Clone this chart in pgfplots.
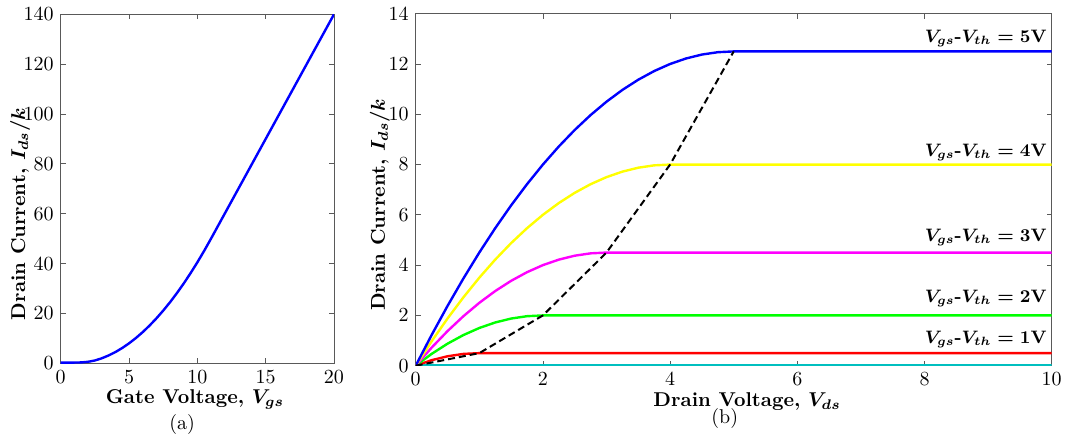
\documentclass[border=0pt]{standalone}
\usepackage{pgfplots}
\pgfplotsset{compat=1.18}
\usepackage{bm}
\definecolor{framegray}{gray}{0.35}
\definecolor{mycyan}{rgb}{0,0.75,0.75}
\definecolor{myblue}{rgb}{0,0,1}
\definecolor{myred}{rgb}{1,0,0}
\definecolor{mygreen}{rgb}{0,1,0}
\definecolor{mymagenta}{rgb}{1,0,1}
\definecolor{myyellow}{rgb}{1,1,0}
\pgfplotsset{
  myaxis/.style={
    scale only axis,
    anchor=south west,
    axis line style={framegray},
    every tick/.style={framegray},
    major tick length=2.5pt,
    tick align=inside,
    tick pos=both,
    clip mode=individual,
    ticklabel style={font=\normalsize},
    label style={font=\bfseries},
  }
}
\begin{document}
\begin{tikzpicture}
\useasboundingbox (0,0) rectangle (533.5pt,222.5pt);
% ---------- (a) ----------
\begin{axis}[myaxis,
  at={(30.35pt,40.85pt)}, width=136.65pt, height=174.5pt,
  xmin=0, xmax=20, ymin=0, ymax=140,
  xtick={0,5,10,15,20}, ytick={0,20,...,140},
  xlabel={Gate Voltage, $\bm{V_{gs}}$},
  ylabel={Drain Current, $\bm{I_{ds}/k}$},
  xlabel style={at={(axis description cs:0.491,-0.1166)}, anchor=base},
  ylabel style={at={(axis description cs:-0.1306,0.428)}, anchor=base},
]
\addplot[myblue, line width=1.2pt] coordinates {
(0,0.3) (0.5,0.3) (1,0.3) (1.5,0.35) (2,0.6) (2.5,1.125) (3,2) (3.5,3.125)
(4,4.5) (4.5,6.125) (5,8) (5.5,10.125) (6,12.5) (6.5,15.125) (7,18)
(7.5,21.125) (8,24.5) (8.5,28.125) (9,32) (9.5,36.125) (10,40.5)
(10.5,45.125) (11,50) (12,60) (13,70) (14,80) (15,90) (16,100)
(17,110) (18,120) (19,130) (20,140)};
\node[font=\normalsize] at (axis description cs:0.444,-0.174) {(a)};
\end{axis}
% ---------- (b) ----------
\begin{axis}[myaxis,
  at={(207.85pt,39.65pt)}, width=318pt, height=176pt,
  xmin=0, xmax=10, ymin=0, ymax=14,
  xtick={0,2,...,10}, ytick={0,2,...,14},
  xlabel={Drain Voltage, $\bm{V_{ds}}$},
  ylabel={Drain Current, $\bm{I_{ds}/k}$},
  xlabel style={at={(axis description cs:0.521,-0.117)}, anchor=base},
  ylabel style={at={(axis description cs:-0.0483,0.457)}, anchor=base},
]
\addplot[mycyan, line width=0.9pt] coordinates {(0,0.04) (10,0.04)};
\addplot[myred, line width=1.2pt] coordinates {
(0,0) (0.25,0.21875) (0.5,0.375) (0.75,0.46875) (1,0.5) (10,0.5)};
\addplot[mygreen, line width=1.2pt] coordinates {
(0,0) (0.25,0.46875) (0.5,0.875) (0.75,1.21875) (1,1.5) (1.25,1.71875)
(1.5,1.875) (1.75,1.96875) (2,2) (10,2)};
\addplot[mymagenta, line width=1.2pt] coordinates {
(0,0) (0.25,0.71875) (0.5,1.375) (0.75,1.96875) (1,2.5) (1.25,2.96875)
(1.5,3.375) (1.75,3.71875) (2,4) (2.25,4.21875) (2.5,4.375) (2.75,4.46875)
(3,4.5) (10,4.5)};
\addplot[myyellow, line width=1.2pt] coordinates {
(0,0) (0.25,0.96875) (0.5,1.875) (0.75,2.71875) (1,3.5) (1.25,4.21875)
(1.5,4.875) (1.75,5.46875) (2,6) (2.25,6.46875) (2.5,6.875) (2.75,7.21875)
(3,7.5) (3.25,7.71875) (3.5,7.875) (3.75,7.96875) (4,8) (10,8)};
\addplot[myblue, line width=1.2pt] coordinates {
(0,0) (0.25,1.21875) (0.5,2.375) (0.75,3.46875) (1,4.5) (1.25,5.46875)
(1.5,6.375) (1.75,7.21875) (2,8) (2.25,8.71875) (2.5,9.375) (2.75,9.96875)
(3,10.5) (3.25,10.96875) (3.5,11.375) (3.75,11.71875) (4,12) (4.25,12.21875)
(4.5,12.375) (4.75,12.46875) (5,12.5) (10,12.5)};
\addplot[black, line width=1pt, dash pattern=on 3.5pt off 2pt] coordinates {
(0,0) (1,0.5) (2,2) (3,4.5) (4,8) (5,12.5)};
\begin{scope}[every node/.style={anchor=base east, inner sep=0pt, xshift=-2.3pt, font=\small\bfseries\boldmath}]
\node[yshift=4.65pt] at (axis cs:10,12.5) {$V_{gs}$-$V_{th} = 5$V};
\node[yshift=4.2pt] at (axis cs:10,8) {$V_{gs}$-$V_{th} = 4$V};
\node[yshift=5.6pt] at (axis cs:10,4.5) {$V_{gs}$-$V_{th} = 3$V};
\node[yshift=6.3pt] at (axis cs:10,2) {$V_{gs}$-$V_{th} = 2$V};
\node[yshift=5pt] at (axis cs:10,0.5) {$V_{gs}$-$V_{th} = 1$V};
\end{scope}
\node[font=\normalsize] at (axis description cs:0.486,-0.151) {(b)};
\end{axis}
\end{tikzpicture}
\end{document}
